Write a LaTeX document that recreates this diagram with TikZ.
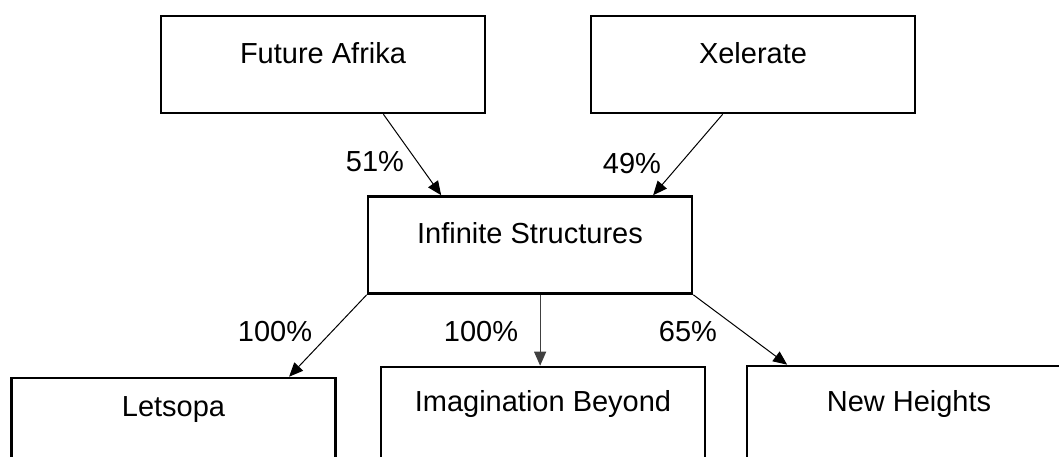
\documentclass[tikz,border=0pt]{standalone}
\usepackage{fontspec}
\setmainfont{Liberation Sans}
\usetikzlibrary{arrows.meta,calc}
\tikzset{
  box/.style={draw=black, line width=2.6pt, minimum width=324pt, minimum height=97pt, inner sep=0pt, fill=white},
  lbl/.style={inner sep=0pt, font=\fontsize{29}{35}\selectfont},
  pct/.style={inner sep=0pt, font=\fontsize{29}{35}\selectfont},
  arr/.style={draw=black, line width=1pt, -{Triangle[length=14pt,width=12pt]}},
}
\begin{document}
\begin{tikzpicture}[x=1pt,y=-1pt]
\useasboundingbox (0,0) rectangle (1059,457);
\fill[white] (0,0) rectangle (1059,457);
\clip (0,0) rectangle (1059,457);
% boxes
\node[box] (fa) at (323,64.5) {};
\node[box] (xe) at (753,64.5) {};
\node[box] (inf) at (530,245) {};
\node[box] (le) at (173.5,426.5) {};
\node[box] (im) at (543,415.5) {};
\node[box] (nh) at (909,414.5) {};
% box texts
\node[lbl] (fat) at ([yshift=-38pt]fa.north) {Future Afrika};
\node[lbl] (xet) at ([yshift=-38pt]xe.north) {Xelerate};
\node[lbl] (inft) at ([yshift=-38pt]inf.north) {Infinite Structures};
\node[lbl] (let) at ([yshift=-33pt]le.north) {Letsopa};
\node[lbl] (imt) at ([yshift=-38pt]im.north) {Imagination Beyond};
\node[lbl] (nht) at ([yshift=-39pt]nh.north) {New Heights};
% connectors
\coordinate (ms) at ($(inf.south west)!0.531!(inf.south east)$);
\draw[arr] ($(fa.south west)!0.685!(fa.south east)$) -- ($(inf.north west)!0.228!(inf.north east)$);
\draw[arr] ($(xe.south west)!0.407!(xe.south east)$) -- ($(inf.north west)!0.877!(inf.north east)$);
\draw[arr] (inf.south west) -- ($(le.north west)!0.854!(le.north east)$);
\draw[arr, draw=black!75] (ms) -- (ms |- im.north);
\draw[arr] (inf.south east) -- ($(nh.north west)!0.127!(nh.north east)$);
% percentages
\node[pct] (p51) at (375,162) {51\%};
\node[pct] (p49) at (632,164) {49\%};
\node[pct] (p100a) at (275,332) {100\%};
\node[pct] (p100b) at (481,332) {100\%};
\node[pct] (p65) at (688,332) {65\%};
\end{tikzpicture}
\end{document}
